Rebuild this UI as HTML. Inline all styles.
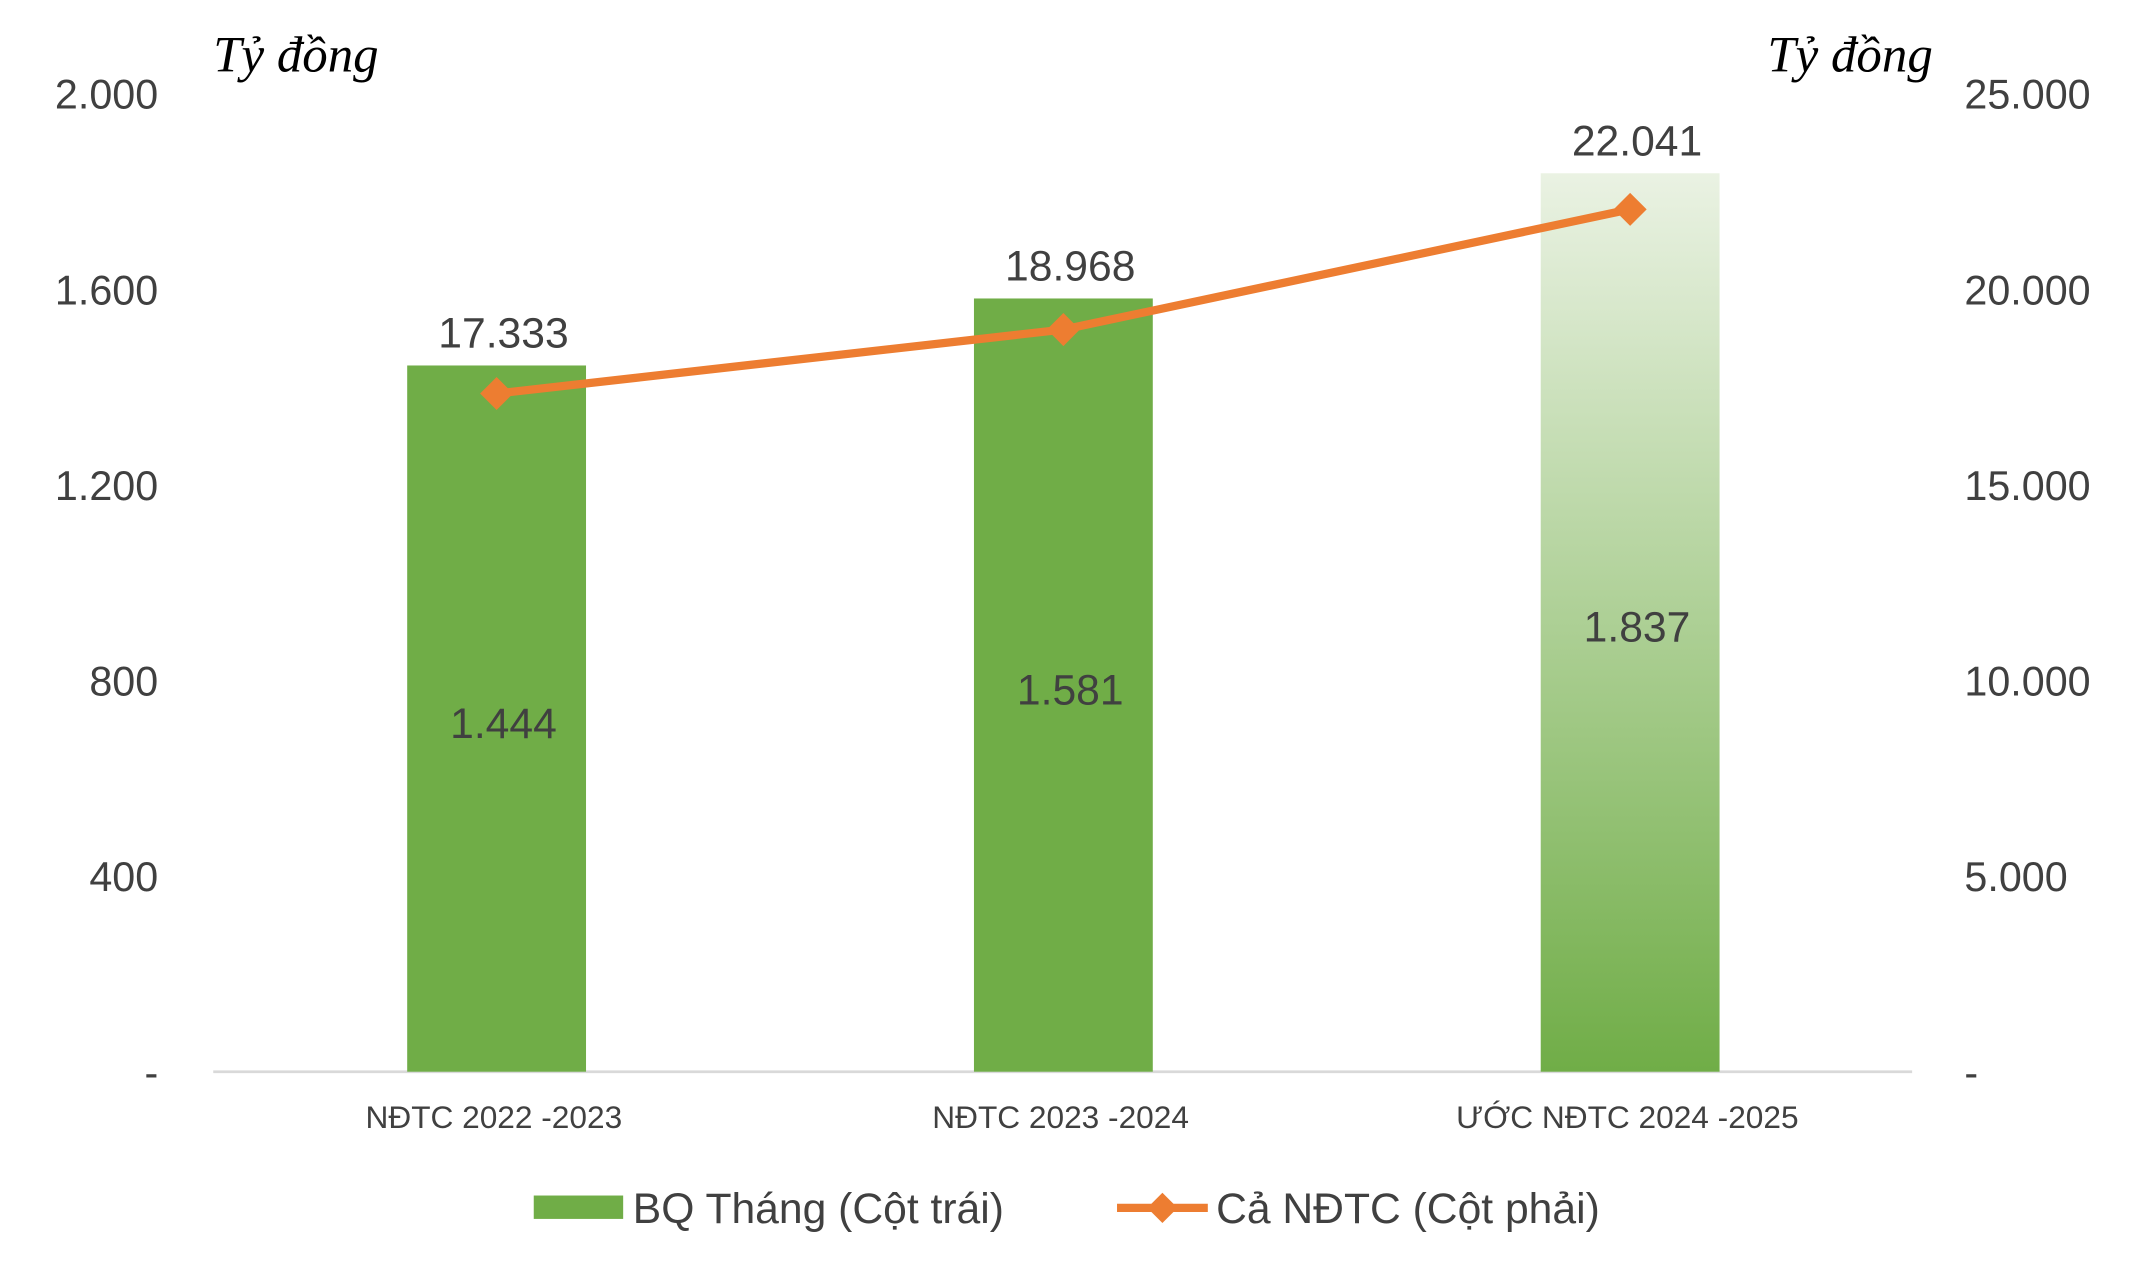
<!DOCTYPE html>
<html><head><meta charset="utf-8">
<style>
html,body{margin:0;padding:0;background:#fff;}
svg{display:block;}
text{font-family:"Liberation Sans",sans-serif;}
</style></head>
<body>
<svg id="chart" width="2135" height="1265" viewBox="0 0 1552 919.5" preserveAspectRatio="none" xmlns="http://www.w3.org/2000/svg">
<defs>
<linearGradient id="grad" x1="0" y1="0" x2="0" y2="1">
<stop offset="0" stop-color="#eaf2e3"/>
<stop offset="1" stop-color="#70ad47"/>
</linearGradient>
</defs>
<text x="155" y="52" font-family="Liberation Serif,serif" font-style="italic" font-size="37" fill="#000" style="font-family:'Liberation Serif',serif">Tỷ đồng</text>
<text x="1405" y="52" text-anchor="end" font-size="37" font-style="italic" fill="#000" style="font-family:'Liberation Serif',serif">Tỷ đồng</text>
<g id="left-ticks"></g>
<g id="right-ticks"></g>
<line x1="155" y1="779" x2="1390" y2="779" stroke="#d9d9d9" stroke-width="2"/>
<g id="bars"></g>
<g id="line-layer"></g>
<g>
<rect x="388" y="869" width="65" height="17" fill="#70ad47"/>
<text x="460" y="889" font-size="31" fill="#404040">BQ Tháng (Cột trái)</text>
<line x1="812" y1="878" x2="878" y2="878" stroke="#ed7d31" stroke-width="6"/>
<path d="M845 867 L856 878 L845 889 L834 878Z" fill="#ed7d31"/>
<text x="884" y="889" font-size="31" fill="#404040">Cả NĐTC (Cột phải)</text>
</g>
</svg>
<script>
const categories = ["NĐTC 2022 -2023","NĐTC 2023 -2024","ƯỚC NĐTC 2024 -2025"];
const barValues = [1444,1581,1837];
const barLabels = ["1.444","1.581","1.837"];
const lineValues = [17333,18968,22041];
const lineLabels = ["17.333","18.968","22.041"];
const leftTicks = [0,400,800,1200,1600,2000];
const leftTickLabels = ["-","400","800","1.200","1.600","2.000"];
const rightTicks = [0,5000,10000,15000,20000,25000];
const rightTickLabels = ["-","5.000","10.000","15.000","20.000","25.000"];

const NS="http://www.w3.org/2000/svg";
const y0=779, yTop=68;
const yL=v=>y0-(v/2000)*(y0-yTop);
const yR=v=>y0-(v/25000)*(y0-yTop);
const xC=i=>361+i*412;
function mk(tag,attrs,parent,txt){const e=document.createElementNS(NS,tag);for(const k in attrs)e.setAttribute(k,attrs[k]);if(txt!==undefined)e.textContent=txt;parent.appendChild(e);return e;}
const lt=document.getElementById('left-ticks'), rt=document.getElementById('right-ticks');
leftTicks.forEach((v,i)=>{const t=mk('text',{x:115,y:yL(v)+11,'text-anchor':'end','font-size':30,fill:'#404040'},lt,leftTickLabels[i]);

});
rightTicks.forEach((v,i)=>{const t=mk('text',{x:1428,y:yR(v)+11,'font-size':30,fill:'#404040'},rt,rightTickLabels[i]);

});
const bg=document.getElementById('bars');
barValues.forEach((v,i)=>{
 const r=mk('rect',{x:xC(i)-65,y:yL(v),width:130,height:y0-yL(v),fill:i===2?'url(#grad)':'#70ad47'},bg);
 
 
 const t=mk('text',{x:xC(i)+5,y:(yL(v)+y0)/2+14,'text-anchor':'middle','font-size':31,fill:'#404040'},bg,barLabels[i]);
 
 
 const c=mk('text',{x:xC(i)-2,y:820,'text-anchor':'middle','font-size':23,fill:'#404040'},bg,categories[i]);
 
 
});
const lg=document.getElementById('line-layer');
const pts=lineValues.map((v,i)=>xC(i)+','+yR(v)).join(' ');
const pl=mk('polyline',{points:pts,fill:'none',stroke:'#ed7d31','stroke-width':6,'stroke-linejoin':'round'},lg);


lineValues.forEach((v,i)=>{
 const x=xC(i),y=yR(v);
 const m=mk('path',{d:`M${x} ${y-12} L${x+12} ${y} L${x} ${y+12} L${x-12} ${y}Z`,fill:'#ed7d31'},lg);
 
 
 const t=mk('text',{x:x+5,y:yL(barValues[i])-13,'text-anchor':'middle','font-size':31,fill:'#404040'},lg,lineLabels[i]);
 
 
});
</script>
</body></html>
